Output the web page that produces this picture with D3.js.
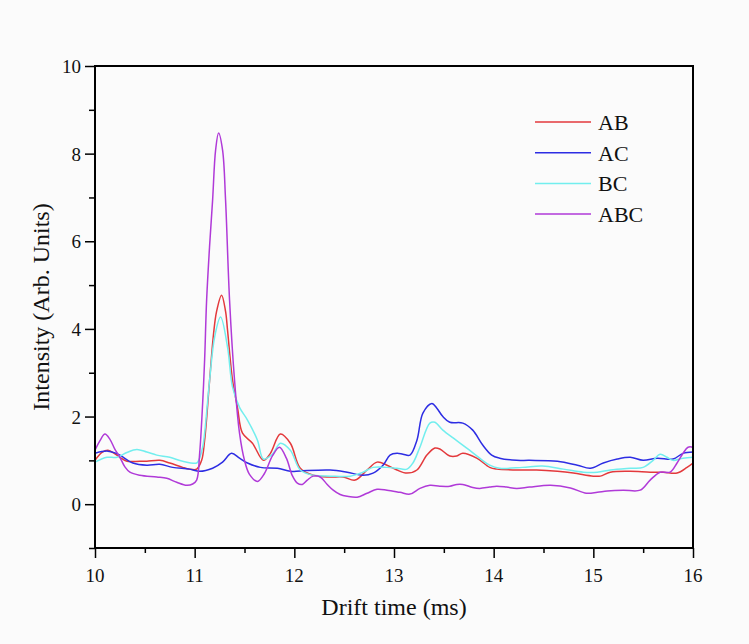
<!DOCTYPE html>
<html>
<head>
<meta charset="utf-8">
<script src="https://cdn.jsdelivr.net/npm/d3@7"></script>
<style>
  body { margin: 0; background: #fbfbfb; }
  svg { font-family: "Liberation Serif", "Times New Roman", serif; }
</style>
</head>
<body>
<svg width="749" height="644"></svg>
<script>
// drift time (ms) and intensity, one pair of arrays per series
const tAB = [10.00,10.07,10.13,10.20,10.25,10.32,10.45,10.52,10.65,10.75,10.88,10.95,11.02,11.07,11.10,11.15,11.19,11.22,11.27,11.31,11.33,11.38,11.43,11.48,11.58,11.69,11.76,11.86,11.96,12.06,12.19,12.36,12.49,12.61,12.73,12.83,12.93,13.03,13.13,13.23,13.33,13.41,13.46,13.56,13.63,13.69,13.83,13.96,14.03,14.23,14.43,14.64,14.80,15.00,15.07,15.17,15.37,15.57,15.70,15.84,15.94,16.00];
const yAB = [1.00,1.18,1.23,1.15,1.07,0.98,0.98,0.98,1.00,0.94,0.84,0.80,0.80,1.00,1.46,2.83,3.90,4.40,4.77,4.40,3.97,2.83,2.20,1.62,1.39,1.00,1.16,1.60,1.39,0.82,0.66,0.62,0.62,0.55,0.78,0.96,0.89,0.78,0.71,0.78,1.12,1.28,1.26,1.10,1.10,1.16,1.05,0.84,0.80,0.78,0.78,0.75,0.71,0.64,0.64,0.73,0.75,0.73,0.73,0.71,0.84,0.94];

const tAC = [10.00,10.07,10.13,10.20,10.25,10.38,10.52,10.65,10.78,10.95,11.05,11.18,11.28,11.37,11.45,11.53,11.66,11.83,11.96,12.06,12.36,12.53,12.69,12.79,12.89,12.96,13.03,13.09,13.16,13.23,13.29,13.38,13.43,13.49,13.56,13.69,13.79,13.89,13.98,14.06,14.23,14.36,14.64,14.84,14.97,15.10,15.24,15.37,15.50,15.64,15.80,15.90,16.00];
const yAC = [1.16,1.20,1.21,1.17,1.12,0.94,0.89,0.91,0.84,0.80,0.75,0.82,0.96,1.16,1.05,0.94,0.84,0.82,0.75,0.76,0.78,0.73,0.66,0.71,0.89,1.12,1.16,1.14,1.12,1.46,2.08,2.30,2.19,2.00,1.87,1.85,1.69,1.35,1.12,1.05,1.00,1.00,0.98,0.89,0.82,0.94,1.03,1.07,1.00,1.05,1.03,1.16,1.19];

const tBC = [10.00,10.12,10.22,10.32,10.42,10.52,10.62,10.75,10.88,11.02,11.04,11.08,11.10,11.15,11.20,11.26,11.33,11.38,11.45,11.53,11.63,11.69,11.78,11.86,11.96,12.06,12.19,12.36,12.56,12.69,12.79,12.93,13.03,13.13,13.19,13.26,13.36,13.41,13.49,13.60,13.73,13.86,13.96,14.06,14.29,14.49,14.70,14.90,15.04,15.17,15.37,15.50,15.60,15.67,15.74,15.80,15.90,16.00];
const yBC = [0.96,1.07,1.07,1.18,1.25,1.19,1.12,1.07,0.98,0.94,1.00,1.30,1.62,2.83,3.81,4.27,3.58,2.67,2.21,1.92,1.46,1.03,1.14,1.39,1.23,0.78,0.66,0.64,0.64,0.73,0.84,0.84,0.82,0.80,0.94,1.30,1.85,1.87,1.69,1.50,1.28,1.05,0.89,0.82,0.84,0.87,0.80,0.73,0.73,0.78,0.82,0.84,1.00,1.14,1.07,1.00,1.05,1.07];

const tABC = [10.00,10.05,10.10,10.15,10.20,10.25,10.30,10.35,10.45,10.62,10.72,10.82,10.92,10.98,11.02,11.05,11.08,11.10,11.12,11.15,11.18,11.21,11.24,11.28,11.31,11.35,11.40,11.45,11.50,11.55,11.63,11.70,11.78,11.85,11.92,11.98,12.03,12.08,12.13,12.19,12.26,12.33,12.39,12.46,12.53,12.63,12.73,12.83,12.93,13.06,13.16,13.26,13.36,13.46,13.56,13.63,13.69,13.79,13.86,13.96,14.03,14.13,14.23,14.36,14.57,14.77,14.93,15.04,15.14,15.30,15.47,15.57,15.67,15.77,15.84,15.90,15.95,16.00];
const yABC = [1.23,1.45,1.60,1.48,1.25,1.07,0.85,0.73,0.66,0.62,0.59,0.50,0.43,0.46,0.55,1.16,2.30,3.30,4.66,5.90,6.94,8.08,8.47,8.08,6.94,4.66,2.83,1.62,1.00,0.68,0.52,0.70,1.10,1.30,1.05,0.65,0.48,0.45,0.55,0.64,0.62,0.45,0.32,0.22,0.18,0.16,0.25,0.34,0.32,0.27,0.23,0.36,0.43,0.41,0.41,0.45,0.45,0.38,0.36,0.39,0.41,0.39,0.36,0.39,0.43,0.37,0.25,0.27,0.30,0.32,0.32,0.55,0.73,0.73,0.94,1.16,1.30,1.30];

const seriesNames = ['AB', 'AC', 'BC', 'ABC'];
const seriesColors = ['#e3393c', '#2d2de3', '#72eeee', '#b03ad8'];
const seriesT = [tAB, tAC, tBC, tABC];
const seriesY = [yAB, yAC, yBC, yABC];

const xTicks = [10, 11, 12, 13, 14, 15, 16];
const yTicks = [0, 2, 4, 6, 8, 10];

const svg = d3.select('svg');
const margin = {top: 66, right: 56, bottom: 96, left: 95};
const width = +svg.attr('width');
const height = +svg.attr('height');
const innerWidth = width - margin.left - margin.right;   // 598
const innerHeight = height - margin.top - margin.bottom; // 482

const xScale = d3.scaleLinear().domain([10, 16]).range([0, innerWidth]);
const yScale = d3.scaleLinear().domain([-1, 10]).range([innerHeight, 0]);

const g = svg.append('g')
  .attr('transform', `translate(${margin.left},${margin.top})`);

g.append('clipPath').attr('id', 'plot-clip')
  .append('rect').attr('width', innerWidth).attr('height', innerHeight);

// tick marks from d3 axes (minor + major), labels placed separately
const tickAxis = (sel, axis) => sel.call(axis)
  .call(a => a.select('.domain').remove())
  .call(a => a.selectAll('text').remove())
  .call(a => a.selectAll('line').attr('stroke-width', 1.5));

g.append('g').call(tickAxis,
  d3.axisLeft(yScale).tickValues(d3.range(-1, 10, 2)).tickSize(6));
g.append('g').attr('transform', `translate(0,${innerHeight})`).call(tickAxis,
  d3.axisBottom(xScale).tickValues(d3.range(10.5, 16, 1)).tickSize(5));
g.append('g').call(tickAxis,
  d3.axisLeft(yScale).tickValues(yTicks).tickSize(10));
g.append('g').attr('transform', `translate(0,${innerHeight})`).call(tickAxis,
  d3.axisBottom(xScale).tickValues(xTicks).tickSize(10));

const labels = g.append('g')
  .attr('font-size', 19)
  .attr('fill', '#111');

labels.selectAll('text.ylab').data(yTicks).join('text')
  .attr('class', 'ylab')
  .attr('x', -14)
  .attr('y', d => yScale(d) + 7)
  .attr('text-anchor', 'end')
  .text(d => d);

labels.selectAll('text.xlab').data(xTicks).join('text')
  .attr('class', 'xlab')
  .attr('x', d => xScale(d))
  .attr('y', innerHeight + 34)
  .attr('text-anchor', 'middle')
  .text(d => d);

// lines
const line = d3.line()
  .x(d => xScale(d[0]))
  .y(d => yScale(d[1]))
  .curve(d3.curveCatmullRom.alpha(0.5));

const plot = g.append('g').attr('clip-path', 'url(#plot-clip)');
seriesNames.forEach((name, i) => {
  const pts = seriesT[i].map((t, j) => [t, seriesY[i][j]]);
  plot.append('path')
    .datum(pts)
    .attr('fill', 'none')
    .attr('stroke', seriesColors[i])
    .attr('stroke-width', 1.5)
    .attr('d', line);
});

// frame
g.append('rect')
  .attr('width', innerWidth).attr('height', innerHeight)
  .attr('fill', 'none').attr('stroke', '#000').attr('stroke-width', 2);

// axis titles
g.append('text')
  .attr('x', innerWidth / 2).attr('y', innerHeight + 67)
  .attr('text-anchor', 'middle')
  .attr('font-size', 24).attr('fill', '#111')
  .text('Drift time (ms)');

g.append('text')
  .attr('transform', `translate(${-46},${innerHeight / 2}) rotate(-90)`)
  .attr('text-anchor', 'middle')
  .attr('font-size', 24).attr('fill', '#111')
  .text('Intensity (Arb. Units)');

// legend
const legend = g.append('g').attr('transform', 'translate(440,56)');
seriesNames.forEach((name, i) => {
  const row = legend.append('g').attr('transform', `translate(0,${i * 30.7})`);
  row.append('line')
    .attr('x1', 0).attr('x2', 56)
    .attr('stroke', seriesColors[i]).attr('stroke-width', 1.5);
  row.append('text')
    .attr('x', 63).attr('y', 8)
    .attr('font-size', 22).attr('fill', '#111')
    .text(name);
});
</script>
</body>
</html>
